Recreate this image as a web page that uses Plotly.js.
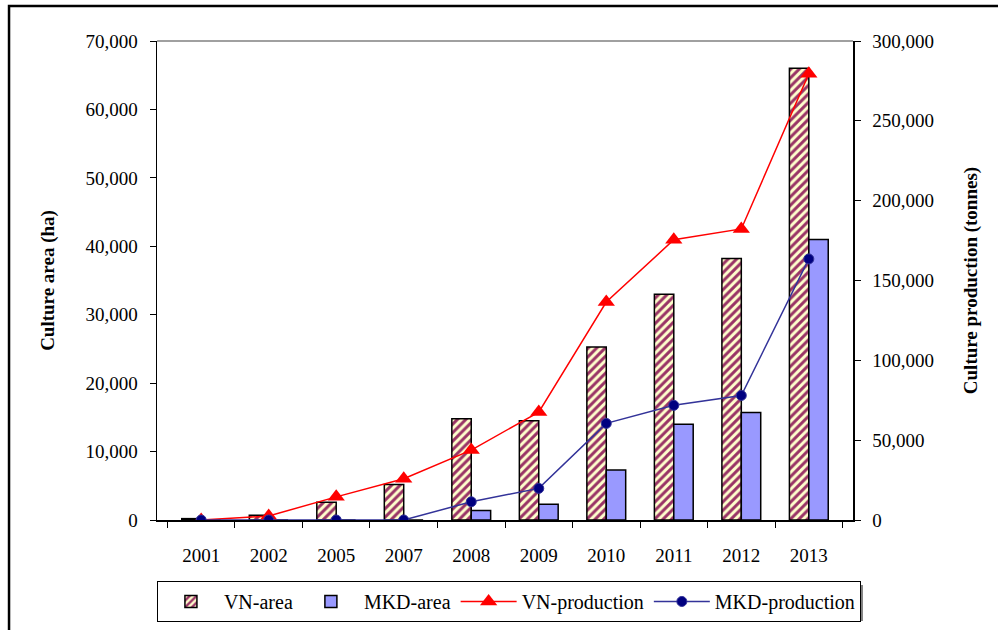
<!DOCTYPE html>
<html>
<head>
<meta charset="utf-8">
<script src="https://cdn.plot.ly/plotly-3.0.1.min.js"></script>
<style>html,body{margin:0;padding:0;background:#fff;}#chart{width:998px;height:630px;}</style>
</head>
<body>
<div id="chart"></div>
<script>
var years = ['2001','2002','2005','2007','2008','2009','2010','2011','2012','2013'];
var vnArea = [200, 700, 2600, 5200, 14800, 14500, 25300, 33000, 38200, 66000];
var mkdArea = [0, 0, 0, 0, 1400, 2300, 7300, 14000, 15700, 41000];
var vnProduction = [0, 2500, 14500, 25800, 43800, 67600, 136500, 175500, 182300, 279500];
var mkdProduction = [0, 0, 0, 0, 11400, 19800, 60500, 71800, 78000, 163500];

var font = 'Liberation Serif, Times New Roman, serif';
var FS = 19;

var traces = [
  {type:'bar', name:'VN-area', x:years, y:vnArea, yaxis:'y',
   marker:{color:'#FFFFCC', line:{color:'#000', width:1.5},
     pattern:{shape:'/', fgcolor:'#993366', bgcolor:'#FFFFCC', size:6, solidity:0.5, fillmode:'replace'}}},
  {type:'bar', name:'MKD-area', x:years, y:mkdArea, yaxis:'y',
   marker:{color:'#9999FF', line:{color:'#000', width:1.5}}},
  {type:'scatter', mode:'lines+markers', name:'VN-production', x:years, y:vnProduction, yaxis:'y2',
   line:{color:'#FF0000', width:1.5}, marker:{symbol:'triangle-up', size:15, color:'#FF0000'}},
  {type:'scatter', mode:'lines+markers', name:'MKD-production', x:years, y:mkdProduction, yaxis:'y2',
   line:{color:'#333399', width:1.5}, marker:{symbol:'circle', size:10, color:'#000080', line:{color:'#333399', width:1}}}
];

var layout = {
  width:998, height:630,
  margin:{l:157, r:145, t:41, b:110, autoexpand:false},
  paper_bgcolor:'#fff', plot_bgcolor:'#fff',
  font:{family:font, size:FS, color:'#000'},
  barmode:'group', bargap:0.425, bargroupgap:0,
  showlegend:true,
  legend:{orientation:'h', x:-0.0001, xanchor:'left', y:-0.1273, yanchor:'top',
    bgcolor:'#fff', bordercolor:'#000', borderwidth:1, font:{family:font, size:20}, itemwidth:56, traceorder:'normal'},
  xaxis:{type:'category', showgrid:false, zeroline:false, showline:true, linecolor:'#000', linewidth:1.5,
    ticks:'outside', tickson:'boundaries', ticklen:6, tickcolor:'#000',
    tickfont:{family:font, size:FS}, ticklabelstandoff:18, automargin:false},
  yaxis:{range:[0,70000], dtick:10000, tickformat:',d', showgrid:false, zeroline:false,
    showline:true, linecolor:'#000', linewidth:1.5, ticks:'outside', ticklen:6, tickcolor:'#000',
    tickfont:{family:font, size:FS}, ticklabelstandoff:8, automargin:false,
    title:{text:'<b>Culture area (ha)</b>', font:{family:font, size:FS}, standoff:26}},
  yaxis2:{range:[0,300000], dtick:50000, tickformat:',d', overlaying:'y', side:'right', showgrid:false, zeroline:false,
    showline:true, linecolor:'#000', linewidth:1.5, ticks:'outside', ticklen:6, tickcolor:'#000',
    tickfont:{family:font, size:FS}, ticklabelstandoff:8, automargin:false,
    title:{text:'<b>Culture production (tonnes)</b>', font:{family:font, size:FS}, standoff:30}},
  yaxis3:{range:[0,70000], dtick:10000, overlaying:'y', side:'left', showgrid:false, zeroline:false,
    showline:false, ticks:'inside', ticklen:6, tickcolor:'#000', showticklabels:false, automargin:false},
  yaxis4:{range:[0,300000], dtick:50000, overlaying:'y', side:'right', showgrid:false, zeroline:false,
    showline:false, ticks:'inside', ticklen:6, tickcolor:'#000', showticklabels:false, automargin:false},
  shapes:[
    {type:'rect', xref:'paper', yref:'paper', x0:-0.2126, x1:1.4, y0:-0.4, y1:1.073,
     line:{color:'#000', width:2.5}, fillcolor:'rgba(0,0,0,0)', layer:'below'},
    {type:'line', xref:'paper', yref:'paper', x0:0, x1:1, y0:1, y1:1,
     line:{color:'#808080', width:1.5}, layer:'below'},
    {type:'rect', xref:'paper', yref:'paper', x0:0.0045, x1:1.0143, y0:-0.2109, y1:-0.1357,
     line:{width:0}, fillcolor:'#808080', layer:'below'}
  ]
};

Plotly.newPlot('chart', traces, layout, {displayModeBar:false, staticPlot:true});
</script>
</body>
</html>
